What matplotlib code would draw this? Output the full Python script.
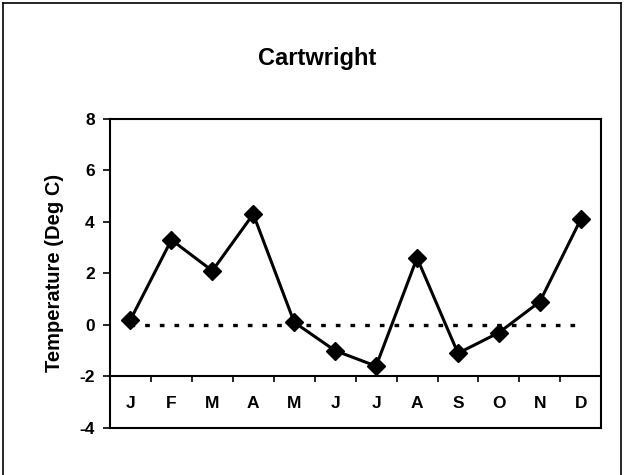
import numpy as np
import matplotlib.pyplot as plt
from matplotlib.lines import Line2D

plt.rcParams['font.family'] = ['Liberation Sans', 'DejaVu Sans']

# data
months = ['J', 'F', 'M', 'A', 'M', 'J', 'J', 'A', 'S', 'O', 'N', 'D']
temps = [0.2, 3.3, 2.1, 4.3, 0.1, -1.0, -1.6, 2.6, -1.1, -0.3, 0.9, 4.1]
baseline = [0.0] * len(months)
y_ticks = [-4, -2, 0, 2, 4, 6, 8]

fig = plt.figure(figsize=(6.25, 4.75), dpi=100)
ax = fig.add_axes([0.176, 0.099, 0.786, 0.651])

x = np.arange(len(months))

# dotted zero line and the temperature series
ax.plot(x, baseline, color='black', lw=2.4, linestyle=(0, (1.4, 3.0)))
ax.plot(x, temps, color='black', lw=2.2, marker='D', markersize=9,
        markerfacecolor='black', markeredgecolor='black')

ax.set_xlim(-0.5, len(months) - 0.5)
ax.set_ylim(-4, 8)
ax.set_yticks(y_ticks)
ax.set_yticklabels([str(v) for v in y_ticks], fontsize=12.5, fontweight='bold')
ax.tick_params(axis='y', direction='out', length=5, width=1.2, pad=6)
ax.set_xticks([])

for s in ax.spines.values():
    s.set_linewidth(1.5)

# category axis drawn at y=-2 with ticks between months
ax.axhline(-2, color='black', lw=1.5)
ax.vlines(x[1:] - 0.5, -2.22, -2, color='black', lw=1.2)
for i, m in enumerate(months):
    ax.text(i, -3.05, m, ha='center', va='center', fontsize=12.5, fontweight='bold')

ax.set_ylabel('Temperature (Deg C)', fontsize=14.5, fontweight='bold', labelpad=11)
fig.text(0.508, 0.877, 'Cartwright', ha='center', va='center',
         fontsize=17, fontweight='bold')

# outer chart border
for xs, ys in [([0.005, 0.005], [0.0, 0.994]), ([0.005, 0.993], [0.994, 0.994]),
               ([0.993, 0.993], [0.0, 0.994])]:
    fig.add_artist(Line2D(xs, ys, color='black', lw=1.2, transform=fig.transFigure))

plt.savefig('out.png', dpi=100)
